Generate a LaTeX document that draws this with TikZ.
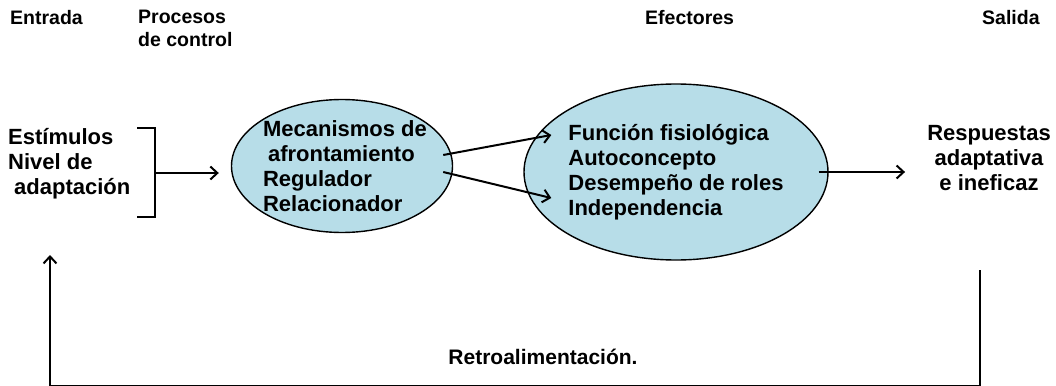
\documentclass[tikz,border=0pt]{standalone}
\usepackage{fontspec}
\setmainfont{Liberation Sans}
\usetikzlibrary{calc,shapes,arrows.meta,positioning}
\definecolor{celeste}{RGB}{183,221,232}

\begin{document}
\begin{tikzpicture}[x=1pt,y=-1pt,
  titulo/.style={font=\fontsize{19.5}{23}\selectfont\bfseries,align=left,inner sep=0pt},
  texto/.style={font=\fontsize{22}{25}\selectfont\bfseries,align=left,inner sep=0pt},
  globo/.style={ellipse,draw,line width=1.4pt,fill=celeste,inner sep=0pt},
  flecha/.style={-{Straight Barb[length=7pt,width=13pt]},line width=2pt}]
\useasboundingbox (0,0) rectangle (1056,385);

% titulos
\foreach \i/\x/\t in {ent/10/{Entrada},pro/138/{Procesos\\de control},efe/645/{Efectores},sal/982/{Salida}}
  \node[titulo,anchor=north west] (t\i) at (\x,10) {\t};

% entrada
\node[texto,anchor=north west] (estimulos) at (8,128) {Estímulos\\Nivel de\\\hspace*{6pt}adaptación};
\draw[line width=1.6pt] (137,128) -| (155,217) -- (137,217);
\coordinate (corchete) at (155,173);

% elipses
\node[globo,minimum width=221pt,minimum height=133pt] (control) at (342,166) {};
\node[texto] (mecanismos) at ([xshift=3pt]control) {Mecanismos de\\\hspace*{5pt}afrontamiento\\Regulador\\Relacionador};

\node[globo,minimum width=304pt,minimum height=176pt] (efectores) at (676,172) {};
\node[texto] (funciones) at (efectores) {Función fisiológica\\Autoconcepto\\Desempeño de roles\\Independencia};

% salida
\node[texto,align=center] (respuestas) at (989,158) {Respuestas\\adaptativa\\e ineficaz};

\draw[flecha,shorten >=12pt] (corchete) -- (corchete -| control.west);
\draw[flecha] ([shift={(-10,-11)}]control.east) -- ([shift={(28,-37)}]efectores.west);
\draw[flecha] ([shift={(-10,6)}]control.east) -- ([shift={(28,26)}]efectores.west);
\draw[flecha,shorten >=22pt] ([xshift=-10pt]efectores.east) -- (efectores.east -| respuestas.west);

% retroalimentacion
\coordinate (fbr) at (980,270);
\coordinate (fbl) at (50,255);
\draw[flecha] (fbr) -- (980,386) -| (fbl);
\node[titulo,font=\fontsize{21}{25}\selectfont\bfseries] (retro) at (543,357) {Retroalimentación.};

\end{tikzpicture}
\end{document}
